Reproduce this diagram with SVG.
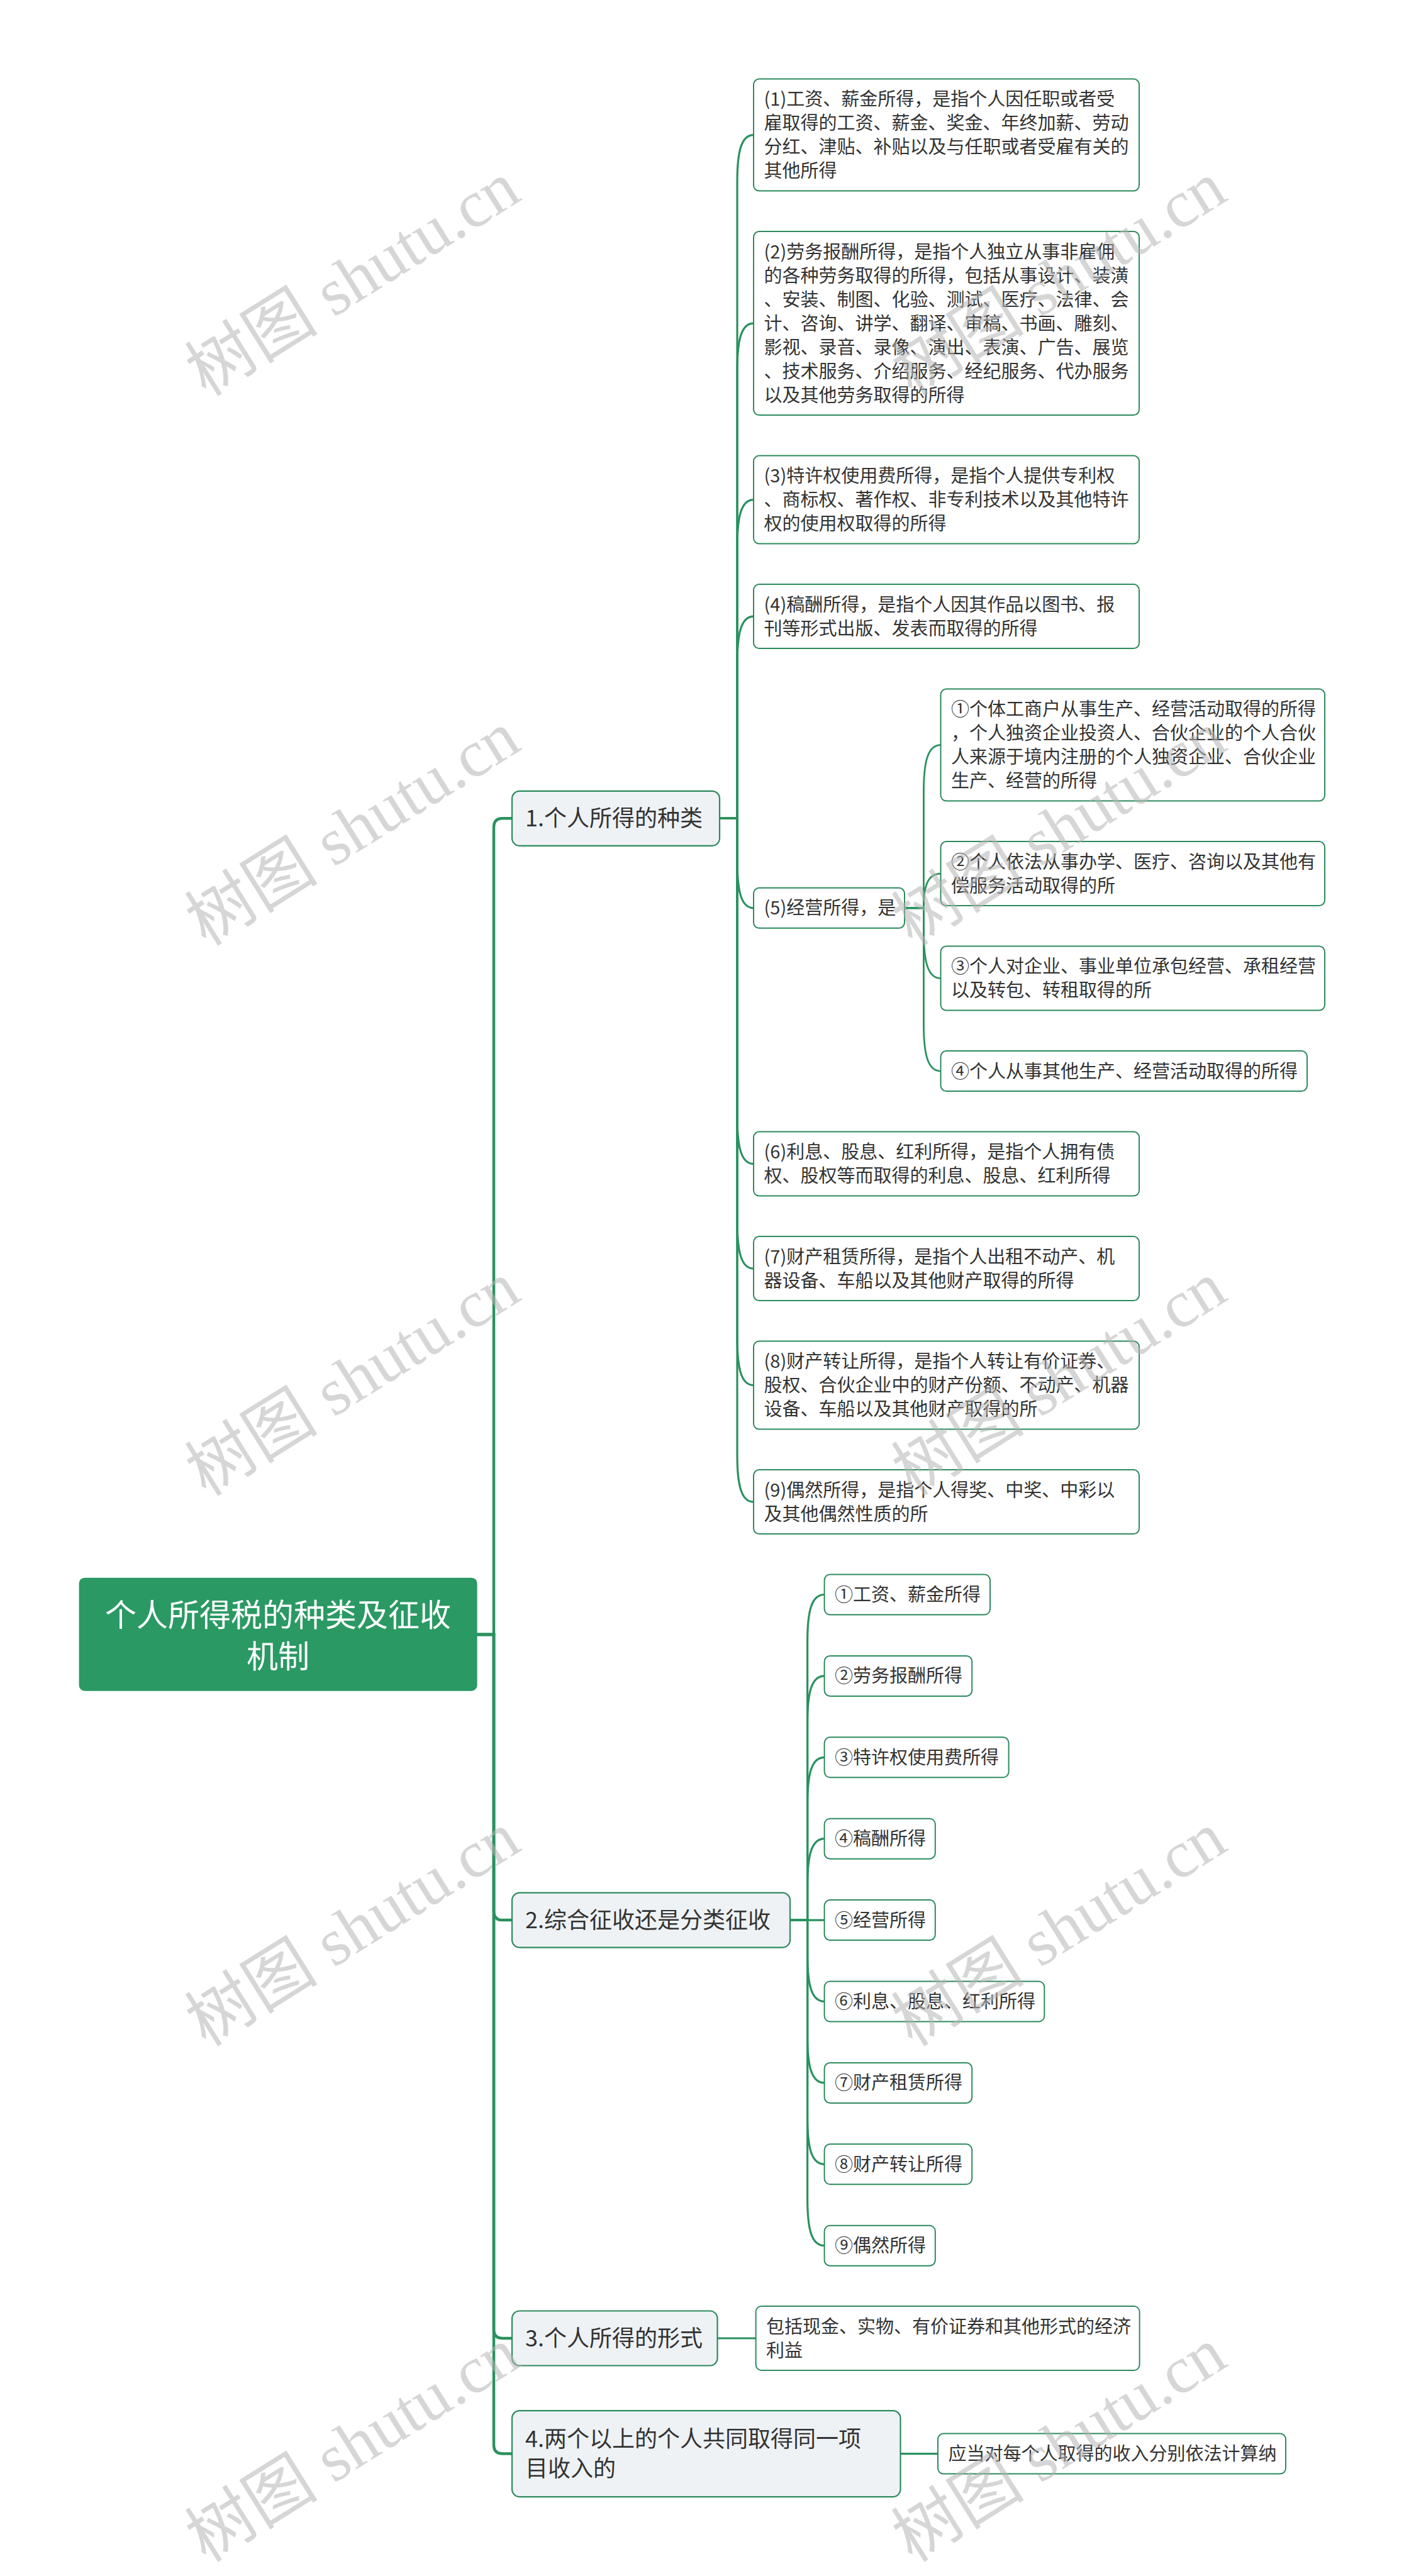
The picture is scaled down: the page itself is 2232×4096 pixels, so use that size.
<svg xmlns="http://www.w3.org/2000/svg" width="2232" height="4096" viewBox="0 0 2232 4096">
<style>
text{font-family:"Noto Sans CJK SC","Noto Sans",sans-serif;}
.root{fill:#2a9963;}
.rt{fill:#ffffff;font-size:50px;text-anchor:middle;}
.l1{fill:#eef2f5;stroke:#2d8a5e;stroke-width:2.2;}
.t1{fill:#333333;font-size:36px;}
.l2{fill:#ffffff;stroke:#2d8a5e;stroke-width:2;}
.t2{fill:#333333;font-size:29px;}
.c0{fill:none;stroke:#2a915f;stroke-width:4.5;stroke-linecap:round;}
.c1{fill:none;stroke:#2a915f;stroke-width:3.2;}
.c2{fill:none;stroke:#2a915f;stroke-width:2.8;}
.wm{font-family:"Liberation Serif","Noto Sans CJK SC",serif;font-size:106px;fill:#b4b4b4;fill-opacity:0.55;text-anchor:middle;dominant-baseline:central;}
</style>
<rect width="2232" height="4096" fill="#ffffff"/>
<g id="connectors">
<path class="c0" d="M758.6,2599 H785 V1315.35 Q785,1301.35 799,1301.35 H814"/>
<path class="c0" d="M758.6,2599 H785 V3039.1 Q785,3053.1 799,3053.1 H814"/>
<path class="c0" d="M758.6,2599 H785 V3704 Q785,3718 799,3718 H814"/>
<path class="c0" d="M758.6,2599 H785 V3887.6 Q785,3901.6 799,3901.6 H814"/>
<path class="c1" d="M1144,1301.35 H1172 V289.6 C1172,240.85 1178.5,214.6 1198,214.6"/>
<path class="c1" d="M1144,1301.35 H1172 V589.1 C1172,540.35 1178.5,514.1 1198,514.1"/>
<path class="c1" d="M1144,1301.35 H1172 V869.6 C1172,820.85 1178.5,794.6 1198,794.6"/>
<path class="c1" d="M1144,1301.35 H1172 V1055.1 C1172,1006.35 1178.5,980.1 1198,980.1"/>
<path class="c1" d="M1144,1301.35 H1172 V1368.85 C1172,1417.6 1178.5,1443.85 1198,1443.85"/>
<path class="c1" d="M1144,1301.35 H1172 V1775.6 C1172,1824.35 1178.5,1850.6 1198,1850.6"/>
<path class="c1" d="M1144,1301.35 H1172 V1942.1 C1172,1990.85 1178.5,2017.1 1198,2017.1"/>
<path class="c1" d="M1144,1301.35 H1172 V2127.6 C1172,2176.35 1178.5,2202.6 1198,2202.6"/>
<path class="c1" d="M1144,1301.35 H1172 V2313.1 C1172,2361.85 1178.5,2388.1 1198,2388.1"/>
<path class="c2" d="M1438,1443.85 H1468.4 V1259.6 C1468.4,1210.85 1475,1184.6 1495.5,1184.6"/>
<path class="c2" d="M1438,1443.85 H1468.4 C1468.4,1408.26 1475,1389.1 1495.5,1389.1"/>
<path class="c2" d="M1438,1443.85 H1468.4 V1480.6 C1468.4,1529.35 1475,1555.6 1495.5,1555.6"/>
<path class="c2" d="M1438,1443.85 H1468.4 V1628.1 C1468.4,1676.85 1475,1703.1 1495.5,1703.1"/>
<path class="c1" d="M1256,3053.1 H1283.6 V2610.5 C1283.6,2561.75 1290,2535.5 1310.6,2535.5"/>
<path class="c1" d="M1256,3053.1 H1283.6 V2739.9 C1283.6,2691.15 1290,2664.9 1310.6,2664.9"/>
<path class="c1" d="M1256,3053.1 H1283.6 V2869.3 C1283.6,2820.55 1290,2794.3 1310.6,2794.3"/>
<path class="c1" d="M1256,3053.1 H1283.6 V2998.7 C1283.6,2949.95 1290,2923.7 1310.6,2923.7"/>
<path class="c1" d="M1256,3053.1 H1310.6"/>
<path class="c1" d="M1256,3053.1 H1283.6 V3107.5 C1283.6,3156.25 1290,3182.5 1310.6,3182.5"/>
<path class="c1" d="M1256,3053.1 H1283.6 V3236.9 C1283.6,3285.65 1290,3311.9 1310.6,3311.9"/>
<path class="c1" d="M1256,3053.1 H1283.6 V3366.3 C1283.6,3415.05 1290,3441.3 1310.6,3441.3"/>
<path class="c1" d="M1256,3053.1 H1283.6 V3495.7 C1283.6,3544.45 1290,3570.7 1310.6,3570.7"/>
<path class="c1" d="M1140.5,3718 H1201.6"/>
<path class="c1" d="M1431.5,3901.6 H1491"/>
</g>
<g id="root">
<rect class="root" x="125.6" y="2508.7" width="633" height="180" rx="9"/>
<text class="rt" x="442" y="2586">个人所得税的种类及征收</text>
<text class="rt" x="442" y="2652">机制</text>
</g>
<g id="n1">
<rect class="l1" x="814" y="1257.85" width="330" height="87" rx="12"/>
<text class="t1" x="835" y="1314.35">1.个人所得的种类</text>
</g>
<g id="n2">
<rect class="l1" x="814" y="3009.6" width="442" height="87" rx="12"/>
<text class="t1" x="835" y="3066.1">2.综合征收还是分类征收</text>
</g>
<g id="n3">
<rect class="l1" x="814" y="3674.5" width="326.5" height="87" rx="12"/>
<text class="t1" x="835" y="3731">3.个人所得的形式</text>
</g>
<g id="n4">
<rect class="l1" x="814" y="3833.1" width="617.5" height="137" rx="12"/>
<text class="t1" x="835" y="3891">4.两个以上的个人共同取得同一项</text>
<text class="t1" x="835" y="3938">目收入的</text>
</g>
<g id="a1">
<rect class="l2" x="1198" y="125.6" width="613" height="178" rx="9"/>
<text class="t2" x="1214.5" y="168.1">(1)工资、薪金所得，是指个人因任职或者受</text>
<text class="t2" x="1214.5" y="206.1">雇取得的工资、薪金、奖金、年终加薪、劳动</text>
<text class="t2" x="1214.5" y="244.1">分红、津贴、补贴以及与任职或者受雇有关的</text>
<text class="t2" x="1214.5" y="282.1">其他所得</text>
</g>
<g id="a2">
<rect class="l2" x="1198" y="368.1" width="613" height="292" rx="9"/>
<text class="t2" x="1214.5" y="410.6">(2)劳务报酬所得，是指个人独立从事非雇佣</text>
<text class="t2" x="1214.5" y="448.6">的各种劳务取得的所得，包括从事设计、装潢</text>
<text class="t2" x="1214.5" y="486.6">、安装、制图、化验、测试、医疗、法律、会</text>
<text class="t2" x="1214.5" y="524.6">计、咨询、讲学、翻译、审稿、书画、雕刻、</text>
<text class="t2" x="1214.5" y="562.6">影视、录音、录像、演出、表演、广告、展览</text>
<text class="t2" x="1214.5" y="600.6">、技术服务、介绍服务、经纪服务、代办服务</text>
<text class="t2" x="1214.5" y="638.6">以及其他劳务取得的所得</text>
</g>
<g id="a3">
<rect class="l2" x="1198" y="724.6" width="613" height="140" rx="9"/>
<text class="t2" x="1214.5" y="767.1">(3)特许权使用费所得，是指个人提供专利权</text>
<text class="t2" x="1214.5" y="805.1">、商标权、著作权、非专利技术以及其他特许</text>
<text class="t2" x="1214.5" y="843.1">权的使用权取得的所得</text>
</g>
<g id="a4">
<rect class="l2" x="1198" y="929.1" width="613" height="102" rx="9"/>
<text class="t2" x="1214.5" y="971.6">(4)稿酬所得，是指个人因其作品以图书、报</text>
<text class="t2" x="1214.5" y="1009.6">刊等形式出版、发表而取得的所得</text>
</g>
<g id="a5">
<rect class="l2" x="1198" y="1411.85" width="240" height="64" rx="9"/>
<text class="t2" x="1214.5" y="1454.35">(5)经营所得，是</text>
</g>
<g id="b1">
<rect class="l2" x="1495.5" y="1095.6" width="610.5" height="178" rx="9"/>
<text class="t2" x="1512" y="1138.1">①个体工商户从事生产、经营活动取得的所得</text>
<text class="t2" x="1512" y="1176.1">，个人独资企业投资人、合伙企业的个人合伙</text>
<text class="t2" x="1512" y="1214.1">人来源于境内注册的个人独资企业、合伙企业</text>
<text class="t2" x="1512" y="1252.1">生产、经营的所得</text>
</g>
<g id="b2">
<rect class="l2" x="1495.5" y="1338.1" width="610.5" height="102" rx="9"/>
<text class="t2" x="1512" y="1380.6">②个人依法从事办学、医疗、咨询以及其他有</text>
<text class="t2" x="1512" y="1418.6">偿服务活动取得的所</text>
</g>
<g id="b3">
<rect class="l2" x="1495.5" y="1504.6" width="610.5" height="102" rx="9"/>
<text class="t2" x="1512" y="1547.1">③个人对企业、事业单位承包经营、承租经营</text>
<text class="t2" x="1512" y="1585.1">以及转包、转租取得的所</text>
</g>
<g id="b4">
<rect class="l2" x="1495.5" y="1671.1" width="582.5" height="64" rx="9"/>
<text class="t2" x="1512" y="1713.6">④个人从事其他生产、经营活动取得的所得</text>
</g>
<g id="a6">
<rect class="l2" x="1198" y="1799.6" width="613" height="102" rx="9"/>
<text class="t2" x="1214.5" y="1842.1">(6)利息、股息、红利所得，是指个人拥有债</text>
<text class="t2" x="1214.5" y="1880.1">权、股权等而取得的利息、股息、红利所得</text>
</g>
<g id="a7">
<rect class="l2" x="1198" y="1966.1" width="613" height="102" rx="9"/>
<text class="t2" x="1214.5" y="2008.6">(7)财产租赁所得，是指个人出租不动产、机</text>
<text class="t2" x="1214.5" y="2046.6">器设备、车船以及其他财产取得的所得</text>
</g>
<g id="a8">
<rect class="l2" x="1198" y="2132.6" width="613" height="140" rx="9"/>
<text class="t2" x="1214.5" y="2175.1">(8)财产转让所得，是指个人转让有价证券、</text>
<text class="t2" x="1214.5" y="2213.1">股权、合伙企业中的财产份额、不动产、机器</text>
<text class="t2" x="1214.5" y="2251.1">设备、车船以及其他财产取得的所</text>
</g>
<g id="a9">
<rect class="l2" x="1198" y="2337.1" width="613" height="102" rx="9"/>
<text class="t2" x="1214.5" y="2379.6">(9)偶然所得，是指个人得奖、中奖、中彩以</text>
<text class="t2" x="1214.5" y="2417.6">及其他偶然性质的所</text>
</g>
<g id="c1">
<rect class="l2" x="1310.6" y="2503.5" width="263.4" height="64" rx="9"/>
<text class="t2" x="1327" y="2546">①工资、薪金所得</text>
</g>
<g id="c2">
<rect class="l2" x="1310.6" y="2632.9" width="234.6" height="64" rx="9"/>
<text class="t2" x="1327" y="2675.4">②劳务报酬所得</text>
</g>
<g id="c3">
<rect class="l2" x="1310.6" y="2762.3" width="293" height="64" rx="9"/>
<text class="t2" x="1327" y="2804.8">③特许权使用费所得</text>
</g>
<g id="c4">
<rect class="l2" x="1310.6" y="2891.7" width="176.2" height="64" rx="9"/>
<text class="t2" x="1327" y="2934.2">④稿酬所得</text>
</g>
<g id="c5">
<rect class="l2" x="1310.6" y="3021.1" width="176.2" height="64" rx="9"/>
<text class="t2" x="1327" y="3063.6">⑤经营所得</text>
</g>
<g id="c6">
<rect class="l2" x="1310.6" y="3150.5" width="349.7" height="64" rx="9"/>
<text class="t2" x="1327" y="3193">⑥利息、股息、红利所得</text>
</g>
<g id="c7">
<rect class="l2" x="1310.6" y="3279.9" width="234.6" height="64" rx="9"/>
<text class="t2" x="1327" y="3322.4">⑦财产租赁所得</text>
</g>
<g id="c8">
<rect class="l2" x="1310.6" y="3409.3" width="234.6" height="64" rx="9"/>
<text class="t2" x="1327" y="3451.8">⑧财产转让所得</text>
</g>
<g id="c9">
<rect class="l2" x="1310.6" y="3538.7" width="176.2" height="64" rx="9"/>
<text class="t2" x="1327" y="3581.2">⑨偶然所得</text>
</g>
<g id="d1">
<rect class="l2" x="1201.6" y="3667" width="610" height="102" rx="9"/>
<text class="t2" x="1218" y="3709.5">包括现金、实物、有价证券和其他形式的经济</text>
<text class="t2" x="1218" y="3747.5">利益</text>
</g>
<g id="e1">
<rect class="l2" x="1491" y="3869.6" width="553" height="64" rx="9"/>
<text class="t2" x="1507.5" y="3912.1">应当对每个人取得的收入分别依法计算纳</text>
</g>
<g id="watermarks">
<text class="wm" x="561" y="444" transform="rotate(-32 561 444)">树图 shutu.cn</text>
<text class="wm" x="1684" y="444" transform="rotate(-32 1684 444)">树图 shutu.cn</text>
<text class="wm" x="561" y="1318" transform="rotate(-32 561 1318)">树图 shutu.cn</text>
<text class="wm" x="1684" y="1318" transform="rotate(-32 1684 1318)">树图 shutu.cn</text>
<text class="wm" x="561" y="2193" transform="rotate(-32 561 2193)">树图 shutu.cn</text>
<text class="wm" x="1684" y="2193" transform="rotate(-32 1684 2193)">树图 shutu.cn</text>
<text class="wm" x="561" y="3068" transform="rotate(-32 561 3068)">树图 shutu.cn</text>
<text class="wm" x="1684" y="3068" transform="rotate(-32 1684 3068)">树图 shutu.cn</text>
<text class="wm" x="561" y="3888" transform="rotate(-32 561 3888)">树图 shutu.cn</text>
<text class="wm" x="1684" y="3888" transform="rotate(-32 1684 3888)">树图 shutu.cn</text>
</g>
</svg>
